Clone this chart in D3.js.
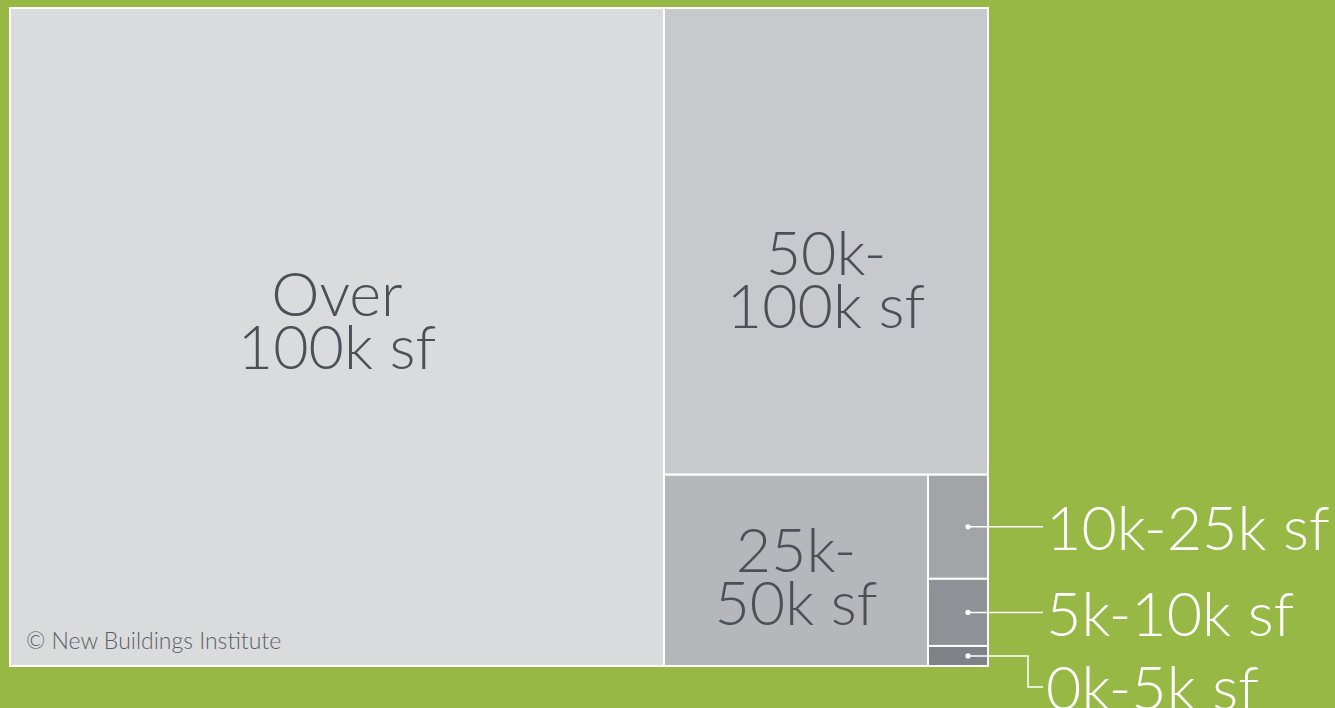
<!DOCTYPE html>
<html>
<head>
<meta charset="utf-8">
<script src="https://cdn.jsdelivr.net/npm/d3@7"></script>
<style>
  html, body { margin: 0; padding: 0; background: #97b845; }
  svg { display: block; }
  text { font-family: Lato, "Open Sans", sans-serif; font-weight: 300; }
</style>
</head>
<body>
<div id="chart"></div>
<script>
// Building size categories and their share of floor area (%)
const categories = ['Over 100k sf', '50k-100k sf', '25k-50k sf', '10k-25k sf', '5k-10k sf', '0k-5k sf'];
const shares = [66.87, 23.50, 7.85, 0.971, 0.626, 0.187];
// Labels as printed (line breaks)
const cellLines = [['Over', '100k sf'], ['50k-', '100k sf'], ['25k-', '50k sf'], null, null, null];
const calloutLabels = ['', '', '', '10k-25k sf', '5k-10k sf', '0k-5k sf'];

const colors = ['#dadbdd', '#c8c9cc', '#b6b7ba', '#a2a4a8', '#8e9195', '#7e8186'];
const textColor = '#4a5058';

const W = 1335, H = 708;
const chart = { left: 10, top: 8, width: 978, height: 658 };

// nudge for in-cell labels (vertical, px), to match the artwork
const labelShift = { 'Over 100k sf': -16, '50k-100k sf': 38, '25k-50k sf': 6 };

const svg = d3.select('#chart').append('svg')
  .attr('width', W)
  .attr('height', H);

const root = d3.hierarchy({ children: categories.map((c, i) => ({ name: c, value: shares[i], i: i })) })
  .sum(d => d.value || 0)
  .sort((a, b) => b.value - a.value);

d3.treemap()
  .size([chart.width, chart.height])
  .tile(d3.treemapSquarify)
  .round(false)(root);

const g = svg.append('g')
  .attr('transform', `translate(${chart.left},${chart.top})`);

const cells = g.selectAll('.cell')
  .data(root.leaves())
  .enter()
  .append('g')
  .attr('class', 'cell');

cells.append('rect')
  .attr('x', d => d.x0)
  .attr('y', d => d.y0)
  .attr('width', d => d.x1 - d.x0)
  .attr('height', d => d.y1 - d.y0)
  .attr('fill', d => colors[d.data.i])
  .attr('stroke', '#fff')
  .attr('stroke-width', 2);

// in-cell labels
const fontSize = 61, lineH = 53;
cells.filter(d => cellLines[d.data.i])
  .append('text')
  .attr('text-anchor', 'middle')
  .attr('fill', textColor)
  .attr('font-size', fontSize)
  .attr('transform', d => {
    const cx = (d.x0 + d.x1) / 2;
    const cy = (d.y0 + d.y1) / 2 + (labelShift[d.data.name] || 0);
    return `translate(${cx},${cy})`;
  })
  .selectAll('tspan')
  .data(d => cellLines[d.data.i])
  .enter()
  .append('tspan')
  .attr('x', 0)
  .attr('y', (t, j) => (j - 0.5) * lineH + fontSize * 0.36)
  .text(t => t);

// callouts for the small cells
const small = root.leaves().filter(d => calloutLabels[d.data.i]);
const lineEnd = 1043 - chart.left;
const textX = 1046 - chart.left;
small.forEach((d, k) => {
  const dx = d.x0 + 40;
  const dy = (d.y0 + d.y1) / 2;
  const isLast = k === small.length - 1;
  const ly = isLast ? dy + 31 : dy;
  const path = isLast
    ? `M${dx},${dy}H${lineEnd - 15}V${ly}H${lineEnd}`
    : `M${dx},${dy}H${lineEnd}`;
  g.append('path')
    .attr('d', path)
    .attr('fill', 'none')
    .attr('stroke', '#fff')
    .attr('stroke-width', 1.5);
  g.append('circle')
    .attr('cx', dx)
    .attr('cy', dy)
    .attr('r', 2.6)
    .attr('fill', '#fff');
  g.append('text')
    .attr('x', textX)
    .attr('y', ly + fontSize * 0.38)
    .attr('fill', '#fff')
    .attr('font-size', fontSize)
    .text(calloutLabels[d.data.i]);
});

// credit
svg.append('text')
  .attr('x', 26)
  .attr('y', 649)
  .attr('fill', '#5a5f66')
  .attr('font-size', 23)
  .text('\u00A9 New Buildings Institute');
</script>
</body>
</html>
